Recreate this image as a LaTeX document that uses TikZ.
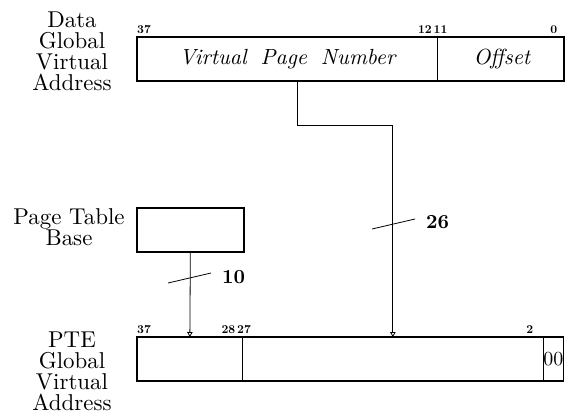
\documentclass[tikz,border=0pt]{standalone}
\usepackage{fontspec}
\setmainfont{lmroman10}[Extension=.otf, UprightFont=*-regular, BoldFont=*-bold, ItalicFont=*-italic, BoldItalicFont=*-bolditalic]
\usetikzlibrary{arrows.meta,calc}
\begin{document}
\begin{tikzpicture}[x=1bp,y=-1bp,
  field/.style={draw,line width=0.7bp,minimum height=43bp,inner sep=0pt,anchor=north west},
  outer/.style={draw,line width=1.7bp},
  fieldtxt/.style={font=\fontsize{22}{22}\selectfont\itshape},
  bitno/.style={font=\fontsize{12}{12}\selectfont\bfseries,inner sep=0pt},
  side/.style={font=\fontsize{23}{21}\selectfont,align=center,inner sep=0pt,anchor=north},
  widthlbl/.style={font=\fontsize{20}{20}\selectfont\bfseries,inner sep=0pt,anchor=west},
  conn/.style={line width=0.8bp},
  arr/.style={conn,-{Triangle[open,length=5bp,width=5.5bp]}}
]
\useasboundingbox (0,0) rectangle (565,416);

% top address
\node[field,minimum width=300bp,fieldtxt] (vpn) at (137,37) {Virtual\hspace{14bp}Page\hspace{14bp}Number};
\node[field,minimum width=126bp,fieldtxt] (off) at (437,37) {\hspace{3bp}Offset};
\draw[outer] (vpn.north west) rectangle (off.south east);
\node[side] (dlbl) at (72,11.5) {Data\\Global\\Virtual\\Address};
\node[bitno,anchor=base west] (b37a) at (137,33.5) {37};
\node[bitno,anchor=base east] (b12) at (432,33.5) {12};
\node[bitno,anchor=base west] (b11) at (433.5,33.5) {11};
\node[bitno,anchor=base east] (b0) at (557.5,33.5) {0};

% page table base
\node[field,minimum width=106bp] (ptb) at (137,208) {};
\draw[outer] (ptb.north west) rectangle (ptb.south east);
\node[side,font=\fontsize{23}{18}\selectfont] (plbl) at (69,208) {Page Table\\Base};

% PTE address
\node[field,minimum width=105bp] (f1) at (137,337) {};
\node[field,minimum width=301bp] (f2) at (242,337) {};
\node[field,minimum width=20bp,font=\fontsize{20}{20}\selectfont] (f3) at (543,337) {00};
\draw[outer] (f3.north east) -- (f1.north east) -- (f1.north west) -- (f1.south west) -- (f3.south east);
\node[side] (elbl) at (72,332) {PTE\\Global\\Virtual\\Address};
\node[bitno,anchor=base west] (b37b) at (137,333) {37};
\node[bitno,anchor=base east] (b28) at (235.5,333) {28};
\node[bitno,anchor=base west] (b27) at (237,333) {27};
\node[bitno,anchor=base east] (b2) at (533.5,333) {2};

% connectors
\coordinate (t1) at (297,125);
\draw[arr] (vpn.south -| t1) -- (t1) -| (f2.north);
\draw[arr] (ptb.south) -- (f1.north);

% bus width marks
\draw[conn] (372,229) -- (415,219);
\node[widthlbl] (w26) at (426,222) {26};
\draw[conn] (168,283) -- (211,273);
\node[widthlbl] (w10) at (222,277) {10};
\end{tikzpicture}
\end{document}
